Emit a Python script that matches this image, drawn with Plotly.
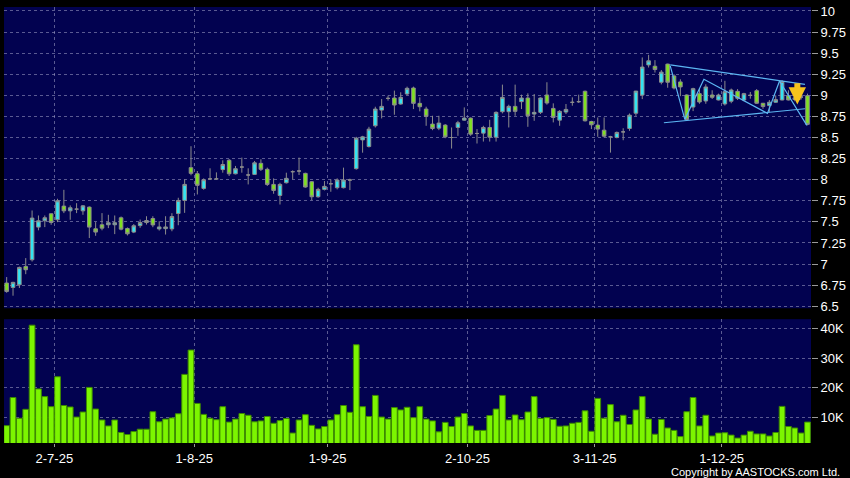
import pandas as pd
import plotly.graph_objects as go

# ---------------- data ----------------
hk_holidays = ["2025-07-01", "2025-10-01", "2025-10-07", "2025-10-29"]
dates = [d for d in pd.bdate_range("2025-06-19", "2025-12-18") if d.strftime("%Y-%m-%d") not in hk_holidays]

open_ = [6.775, 6.723, 6.755, 6.972, 7.051, 7.438, 7.513, 7.596, 7.525, 7.687,
         7.631, 7.651, 7.631, 7.675, 7.418, 7.466, 7.466, 7.466, 7.549, 7.422,
         7.379, 7.456, 7.492, 7.540, 7.417, 7.420, 7.417, 7.599, 7.754, 8.143,
         8.071, 7.897, 8.010, 8.010, 8.120, 8.230, 8.070, 8.150, 8.056, 8.063,
         8.194, 8.123, 7.944, 7.813, 7.964, 8.095, 8.103, 8.075, 7.976, 7.798,
         7.885, 7.952, 7.905, 7.905, 7.996, 8.131, 8.472, 8.393, 8.639, 8.825,
         8.964, 8.968, 8.897, 9.016, 9.087, 8.905, 8.837, 8.659, 8.611, 8.647,
         8.500, 8.619, 8.706, 8.730, 8.548, 8.552, 8.619, 8.504, 8.806, 8.806,
         8.869, 8.925, 8.968, 8.778, 8.798, 9.004, 8.845, 8.706, 8.802, 8.917,
         8.925, 9.048, 8.690, 8.647, 8.587, 8.508, 8.500, 8.567, 8.607, 8.788,
         9.003, 9.361, 9.345, 9.155, 9.370, 9.230, 9.159, 9.004, 8.861, 9.020,
         8.933, 9.004, 8.945, 8.898, 8.930, 9.047, 8.944, 9.000, 9.055, 8.906,
         8.879, 8.918, 8.945, 8.996, 8.950, 8.980, 8.996]
high = [6.846, 6.790, 6.970, 7.071, 7.635, 7.576, 7.576, 7.600, 7.774, 7.880,
        7.695, 7.722, 7.700, 7.683, 7.497, 7.604, 7.584, 7.576, 7.564, 7.434,
        7.474, 7.528, 7.567, 7.567, 7.508, 7.567, 7.603, 7.786, 8.004, 8.397,
        8.103, 8.016, 8.135, 8.087, 8.230, 8.245, 8.163, 8.262, 8.135, 8.222,
        8.242, 8.143, 8.016, 7.964, 8.083, 8.111, 8.262, 8.083, 7.984, 7.905,
        7.984, 8.004, 8.016, 8.143, 8.012, 8.508, 8.520, 8.627, 8.865, 8.956,
        8.996, 9.056, 9.036, 9.103, 9.103, 8.976, 8.865, 8.758, 8.758, 8.659,
        8.619, 8.698, 8.857, 8.738, 8.600, 8.639, 8.710, 8.810, 9.127, 8.889,
        9.127, 9.008, 9.024, 9.016, 8.976, 9.155, 8.905, 8.825, 8.897, 8.976,
        9.008, 9.056, 8.698, 8.738, 8.738, 8.520, 8.571, 8.610, 8.785, 9.053,
        9.449, 9.480, 9.417, 9.300, 9.375, 9.250, 9.190, 9.012, 9.090, 9.083,
        9.131, 9.060, 9.020, 9.172, 9.080, 9.074, 9.030, 9.040, 9.074, 8.910,
        8.945, 9.000, 9.180, 9.060, 9.020, 9.010, 9.020]
low = [6.660, 6.625, 6.716, 6.880, 7.030, 7.400, 7.438, 7.466, 7.497, 7.604,
       7.525, 7.604, 7.584, 7.308, 7.335, 7.400, 7.426, 7.355, 7.400, 7.339,
       7.367, 7.430, 7.468, 7.437, 7.397, 7.350, 7.389, 7.460, 7.607, 8.052,
       7.825, 7.881, 8.000, 8.000, 8.083, 8.044, 8.063, 8.083, 7.944, 8.056,
       8.103, 7.925, 7.833, 7.706, 7.955, 8.004, 8.056, 7.905, 7.758, 7.786,
       7.873, 7.857, 7.885, 7.897, 7.877, 8.119, 8.320, 8.381, 8.619, 8.726,
       8.937, 8.770, 8.889, 9.000, 8.837, 8.810, 8.639, 8.587, 8.587, 8.492,
       8.369, 8.520, 8.698, 8.520, 8.429, 8.452, 8.452, 8.452, 8.786, 8.619,
       8.758, 8.837, 8.627, 8.698, 8.778, 8.889, 8.679, 8.639, 8.778, 8.877,
       8.909, 8.690, 8.600, 8.508, 8.500, 8.321, 8.490, 8.468, 8.579, 8.757,
       8.955, 9.330, 9.270, 9.130, 9.090, 9.070, 8.990, 8.702, 8.813, 8.900,
       8.900, 8.957, 8.940, 8.879, 8.906, 8.945, 8.930, 8.960, 8.900, 8.840,
       8.800, 8.910, 8.940, 8.940, 8.930, 8.950, 8.645]
close = [6.676, 6.783, 6.960, 6.933, 7.545, 7.513, 7.549, 7.493, 7.750, 7.631,
         7.667, 7.651, 7.690, 7.438, 7.379, 7.426, 7.490, 7.490, 7.414, 7.359,
         7.454, 7.492, 7.516, 7.464, 7.440, 7.440, 7.563, 7.754, 7.944, 8.075,
         7.933, 8.000, 8.010, 8.010, 8.180, 8.070, 8.130, 8.150, 8.056, 8.200,
         8.123, 7.944, 7.873, 7.944, 8.016, 8.095, 8.103, 7.913, 7.798, 7.885,
         7.921, 7.952, 7.996, 7.996, 7.996, 8.492, 8.508, 8.599, 8.837, 8.869,
         8.964, 8.885, 8.976, 9.083, 8.905, 8.865, 8.750, 8.607, 8.671, 8.508,
         8.500, 8.675, 8.730, 8.540, 8.548, 8.619, 8.504, 8.798, 8.976, 8.869,
         8.810, 8.968, 8.758, 8.798, 8.968, 8.909, 8.738, 8.810, 8.833, 8.917,
         8.925, 8.698, 8.651, 8.600, 8.516, 8.508, 8.560, 8.567, 8.765, 9.050,
         9.335, 9.409, 9.306, 9.275, 9.155, 9.088, 9.100, 8.714, 9.079, 8.921,
         9.099, 8.977, 9.004, 9.043, 9.063, 8.965, 9.020, 9.000, 8.906, 8.867,
         8.918, 8.949, 9.164, 8.945, 8.970, 8.980, 8.656]
volume_k = [7.2, 16.7, 9.7, 12.7, 41.1, 19.6, 17.0, 13.6, 23.7, 14.0,
            13.5, 10.1, 11.8, 20.1, 12.8, 9.1, 7.1, 9.1, 4.9, 4.2,
            5.2, 6.0, 6.0, 11.9, 8.5, 9.4, 9.8, 11.2, 24.5, 32.7,
            14.7, 11.0, 9.7, 9.2, 13.6, 8.4, 9.4, 11.3, 10.7, 8.5,
            8.8, 10.3, 8.0, 8.9, 9.6, 4.7, 9.1, 10.9, 7.3, 6.1,
            6.9, 9.1, 10.9, 14.0, 11.7, 34.5, 13.6, 10.3, 17.4, 10.1,
            9.4, 13.3, 12.5, 13.4, 9.9, 13.6, 9.4, 8.8, 5.1, 8.3,
            6.9, 10.1, 11.3, 7.1, 5.6, 5.6, 10.6, 12.8, 17.4, 9.1,
            10.8, 9.2, 11.8, 17.0, 9.6, 9.9, 9.3, 7.0, 7.1, 8.0,
            8.3, 12.2, 5.3, 16.4, 9.7, 14.3, 8.5, 10.7, 7.6, 12.5,
            17.0, 9.4, 4.3, 9.3, 6.4, 5.6, 3.5, 11.9, 16.7, 7.1,
            10.7, 3.7, 4.7, 4.8, 4.0, 3.0, 4.0, 5.3, 4.4, 4.4,
            3.7, 4.9, 13.7, 6.9, 6.4, 4.7, 8.4]

tick_dates = ["2025-07-02", "2025-08-01", "2025-09-01", "2025-10-02", "2025-11-03", "2025-12-01"]
tick_labels = ["2-7-25", "1-8-25", "1-9-25", "2-10-25", "3-11-25", "1-12-25"]
price_ticks = [6.5, 6.75, 7, 7.25, 7.5, 7.75, 8, 8.25, 8.5, 8.75, 9, 9.25, 9.5, 9.75, 10]
vol_ticks_k = [10, 20, 30, 40]

# triangle pattern (index, price)
upper_x, upper_y = [104.4, 125.6], [9.36, 9.13]
lower_x, lower_y = [103.4, 125.6], [8.675, 8.841]
zig_x = [104.4, 106.7, 109.7, 119.7, 121.6, 125.9]
zig_y = [9.35, 8.715, 9.19, 8.786, 9.17, 8.644]
signal_x, signal_top, signal_tip = 124.4, 9.16, 8.89

# ---------------- figure ----------------
idx = list(range(len(dates)))
date_str = [d.strftime("%Y-%m-%d") for d in dates]
tickvals = [date_str.index(d) - 0.5 for d in tick_dates]
volume = [v * 1000 for v in volume_k]

NAVY = "#020250"
GRID = "rgba(150,150,190,0.6)"
WHITE = "#ffffff"
FONT = "Liberation Sans, Arial, sans-serif"

fig = go.Figure()
fig.add_trace(go.Candlestick(
    x=idx, open=open_, high=high, low=low, close=close,
    increasing=dict(fillcolor="#33e4f2", line=dict(color="#8c8c8c", width=1)),
    decreasing=dict(fillcolor="#7fe21f", line=dict(color="#8c8c8c", width=1)),
    whiskerwidth=0, hoverinfo="skip", showlegend=False, xaxis="x", yaxis="y"))

line_style = dict(color="#5cb6f2", width=1.2)
for xs, ys in [(upper_x, upper_y), (lower_x, lower_y), (zig_x, zig_y)]:
    fig.add_trace(go.Scatter(x=xs, y=ys, mode="lines", line=line_style,
                             hoverinfo="skip", showlegend=False, xaxis="x", yaxis="y"))

fig.add_trace(go.Bar(
    x=idx, y=volume, marker=dict(color="#7cf500", line=dict(color="#3d8a00", width=1)),
    hoverinfo="skip", showlegend=False, xaxis="x2", yaxis="y2"))

fig.add_annotation(x=signal_x, y=signal_tip, ax=signal_x, ay=signal_top,
                   xref="x", yref="y", axref="x", ayref="y",
                   showarrow=True, arrowhead=2, arrowsize=0.58, arrowwidth=6,
                   arrowcolor="#f7c31c", text="")

fig.add_annotation(text="Copyright by AASTOCKS.com Ltd.", xref="paper", yref="paper",
                   x=1.038, y=-0.066, xanchor="right", yanchor="middle", showarrow=False,
                   font=dict(family=FONT, size=11, color=WHITE))

xrange = [-0.42, len(idx) - 0.45]
common_x = dict(range=xrange, tickvals=tickvals, showgrid=True, gridcolor=GRID,
                griddash="3px,3px", gridwidth=1, zeroline=False, showline=False)

fig.update_layout(
    width=850, height=478,
    margin=dict(l=4, r=36, t=6, b=35),
    paper_bgcolor="black", plot_bgcolor=NAVY,
    boxgap=0.2, bargap=0.1,
    xaxis=dict(domain=[0, 1], anchor="y", showticklabels=False, ticks="",
               rangeslider=dict(visible=False), **common_x),
    xaxis2=dict(domain=[0, 1], anchor="y2", matches="x", ticktext=tick_labels,
                ticks="outside", ticklen=3, tickcolor="#9a9a9a",
                tickfont=dict(family=FONT, size=13, color=WHITE), **common_x),
    yaxis=dict(domain=[0.309, 1], side="right", range=[6.476, 10.047],
               tickvals=price_ticks, ticktext=[f"{v:g}" for v in price_ticks],
               ticks="outside", ticklen=6, tickcolor="#9a9a9a",
               tickfont=dict(family=FONT, size=13, color=WHITE),
               showgrid=True, gridcolor=GRID, griddash="3px,3px", zeroline=False),
    yaxis2=dict(domain=[0, 0.284], side="right", range=[1340, 43130],
                tickvals=[v * 1000 for v in vol_ticks_k], ticktext=[f"{v}K" for v in vol_ticks_k],
                ticks="outside", ticklen=6, tickcolor="#9a9a9a",
                tickfont=dict(family=FONT, size=13, color=WHITE),
                showgrid=True, gridcolor=GRID, griddash="3px,3px", zeroline=False),
)

fig.write_html("out.html", config={"displayModeBar": False},
               post_script="document.body.style.margin='0';document.body.style.background='black';")
